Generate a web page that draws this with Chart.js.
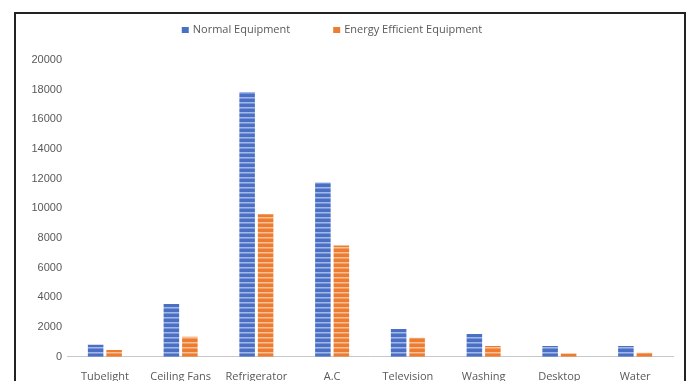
<!DOCTYPE html>
<html>
<head>
<meta charset="utf-8">
<script src="https://cdn.jsdelivr.net/npm/chart.js@4"></script>
<style>
  html, body { margin: 0; padding: 0; background: #fff; overflow: hidden; }
  #wrap { position: relative; width: 689px; height: 409px; }
  #frame { position: absolute; left: 14px; top: 12px; width: 672px; height: 420px;
           box-sizing: border-box; border: 2px solid #222; pointer-events: none; }
  canvas { position: absolute; left: 0; top: 0; }
</style>
</head>
<body>
<div id="wrap">
  <div id="frame"></div>
  <canvas id="chart" width="689" height="409"></canvas>
</div>
<script>
// Appliance energy use: normal vs energy efficient equipment
const categories = ['Tubelight', 'Ceiling Fans', 'Refrigerator', 'A.C', 'Television', 'Washing', 'Desktop', 'Water'];
const normalEquipment = [820, 3560, 17850, 11750, 1870, 1530, 720, 720];
const efficientEquipment = [460, 1350, 9600, 7500, 1280, 720, 230, 270];
const yTicks = [0, 2000, 4000, 6000, 8000, 10000, 12000, 14000, 16000, 18000, 20000];

// horizontal striped fill for the bars
function stripes(base, light, mid) {
  const c = document.createElement('canvas');
  c.width = 4; c.height = 5;
  const g = c.getContext('2d');
  g.fillStyle = base; g.fillRect(0, 0, 4, 5);
  g.fillStyle = light; g.fillRect(0, 2, 4, 1);
  g.fillStyle = mid; g.fillRect(0, 3, 4, 1);
  return g.createPattern(c, 'repeat');
}

const BLUE = '#4a70c4', ORANGE = '#ed7d31';
const bluePattern = stripes('#4b6fc2', '#a2b8e6', '#7896d8');
const orangePattern = stripes('#ee7c30', '#f6c09a', '#f29f66');

// legend drawn as a centered row above the plot
const topLegend = {
  id: 'topLegend',
  afterDraw(chart) {
    const ctx = chart.ctx;
    const items = chart.data.datasets.map(d => ({ text: d.label, color: d.legendColor }));
    ctx.save();
    ctx.font = '11px "Open Sans"';
    ctx.textBaseline = 'middle';
    const box = 7, gap = 4, spacing = 43;
    const widths = items.map(it => box + gap + ctx.measureText(it.text).width);
    const total = widths.reduce((a, b) => a + b, 0) + spacing * (items.length - 1);
    let x = 332 - total / 2;
    const y = 30;
    items.forEach((it, i) => {
      ctx.fillStyle = it.color;
      ctx.fillRect(x, y - 3, box, 6);
      ctx.fillStyle = '#595959';
      ctx.fillText(it.text, x + box + gap, y);
      x += widths[i] + spacing;
    });
    ctx.restore();
  }
};

new Chart(document.getElementById('chart'), {
  type: 'bar',
  data: {
    labels: categories,
    datasets: [
      { label: 'Normal Equipment', data: normalEquipment, backgroundColor: bluePattern, legendColor: BLUE,
        categoryPercentage: 0.488, barPercentage: 0.84 },
      { label: 'Energy Efficient Equipment', data: efficientEquipment, backgroundColor: orangePattern, legendColor: ORANGE,
        categoryPercentage: 0.488, barPercentage: 0.84 }
    ]
  },
  options: {
    responsive: false,
    animation: false,
    devicePixelRatio: 1,
    layout: { padding: { left: 0, right: 16, top: 60, bottom: 13 } },
    plugins: { legend: { display: false }, tooltip: { enabled: false } },
    scales: {
      x: {
        grid: { display: false, drawTicks: false },
        border: { display: true, color: '#c8c8c8', width: 1 },
        ticks: {
          autoSkip: false, maxRotation: 0, padding: 13,
          color: '#595959', font: { family: 'Open Sans', size: 11 }
        }
      },
      y: {
        min: 0, max: 20000,
        grid: { display: false, drawTicks: false },
        border: { display: false },
        afterBuildTicks(scale) { scale.ticks = yTicks.map(v => ({ value: v })); },
        afterFit(scale) { scale.width = 67; },
        ticks: {
          padding: 5, color: '#595959',
          font: { family: 'Liberation Sans', size: 11 },
          callback: v => String(v)
        }
      }
    }
  },
  plugins: [topLegend]
});
</script>
</body>
</html>
